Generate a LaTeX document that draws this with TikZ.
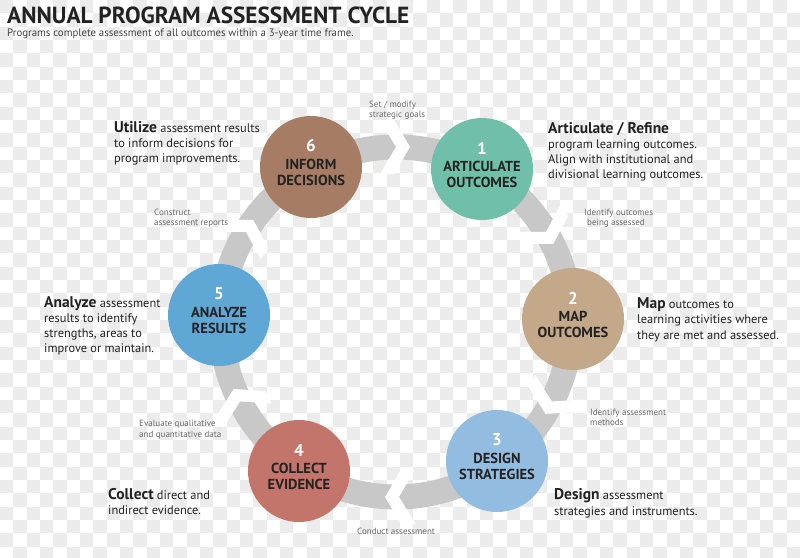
\documentclass[tikz,border=0pt]{standalone}
\usepackage{fontspec}
\setmainfont{PT Sans}
\definecolor{chk}{HTML}{ECECEC}
\definecolor{ringgray}{HTML}{C8C8C8}
\definecolor{cA}{HTML}{6FBFAA}
\definecolor{cB}{HTML}{C4A88A}
\definecolor{cC}{HTML}{92BDE0}
\definecolor{cD}{HTML}{C4756B}
\definecolor{cE}{HTML}{5FA7D4}
\definecolor{cF}{HTML}{A67C65}
\definecolor{txt}{HTML}{222222}
\definecolor{small}{HTML}{6B6B6B}
\tikzset{
  stage/.style={circle, inner sep=0pt, minimum size=102pt},
  num/.style={text=white, font=\fontsize{17}{17}\selectfont\bfseries},
  lab/.style={text=txt, align=center, font=\fontsize{14.5}{16}\selectfont\bfseries},
  desc/.style={text=txt, align=left, anchor=base west, inner sep=0pt, font=\fontsize{12.4}{15}\selectfont},
  note/.style={text=small, align=left, anchor=base west, inner sep=0pt, font=\fontsize{9}{10}\selectfont},
  chev/.style={fill=white}
}
\newcommand{\lead}[1]{{\fontsize{15.5}{15}\selectfont\bfseries #1}}
\begin{document}
\begin{tikzpicture}[x=1pt,y=-1pt]
\useasboundingbox (0,0) rectangle (800,557);
\fill[white] (0,0) rectangle (800,557);
\foreach \j in {0,...,41}{\foreach \i in {0,...,29}{
  \fill[chk] ({(2*\i+mod(\j,2))*13.333},{\j*13.333}) rectangle ++(13.333,13.333);}}
% title
\node[anchor=base west, inner sep=0pt, text=txt, font=\fontsize{23.3}{23}\selectfont\bfseries] (title) at (7,23) {ANNUAL PROGRAM ASSESSMENT CYCLE};
\node[anchor=base west, inner sep=0pt, text=txt!85, font=\fontsize{10.8}{10}\selectfont] (sub) at (7,36.5) {Programs complete assessment of all outcomes within a 3-year time frame.};
% ring
\coordinate (ctr) at (396,322);
\draw[ringgray, line width=25pt] (ctr) circle (175);
% chevrons
\foreach \a/\r in {-90/0, -31/-59, 27/-117, 89/-179, 153/-243, -149/59}{
  \fill[chev, shift={(ctr)}, shift={(\a:175)}, rotate=\r]
    (-16,-27) -- (-2,-27) -- (14,0) -- (-2,27) -- (-16,27) -- (0,0) -- cycle;
}
% stages
\node[stage, fill=cA] (s1) at (482,169) {};
\node[stage, fill=cB] (s2) at (573,319) {};
\node[stage, fill=cC] (s3) at (497,461) {};
\node[stage, fill=cD] (s4) at (299,471) {};
\node[stage, fill=cE] (s5) at (219,315) {};
\node[stage, fill=cF] (s6) at (311,167) {};
\foreach \s/\n/\l in {s1/1/ARTICULATE\\OUTCOMES, s2/2/MAP\\OUTCOMES, s3/3/DESIGN\\STRATEGIES, s4/4/COLLECT\\EVIDENCE, s5/5/ANALYZE\\RESULTS, s6/6/INFORM\\DECISIONS}{
  \node[num] (\s n) at ([yshift=21pt]\s.center) {\n};
  \node[lab] (\s l) at ([yshift=-5pt]\s.center) {\l};
}
% descriptions (base anchor = baseline of last line)
\node[desc] (d6) at (114,162) {\lead{Utilize} assessment results\\to inform decisions for\\program improvements.};
\node[desc] (d1) at (548,178.5) {\lead{Articulate / Refine}\\[0.5pt]program learning outcomes.\\Align with institutional and\\divisional learning outcomes.};
\node[desc, font=\fontsize{12.4}{15.5}\selectfont] (d2) at (637,339) {\lead{Map} outcomes to\\learning activities where\\they are met and assessed.};
\node[desc] (d5) at (44,352) {\lead{Analyze} assessment\\results to identify\\strengths, areas to\\improve or maintain.};
\node[desc] (d4) at (108,514.5) {\lead{Collect} direct and\\indirect evidence.};
\node[desc, font=\fontsize{12.4}{15.5}\selectfont] (d3) at (554,515) {\lead{Design} assessment\\strategies and instruments.};
% notes
\node[note] (n61) at (369,117.5) {Set / modify\\strategic goals};
\node[note] (n12) at (584,225.5) {Identify outcomes\\\hspace*{3pt}being assessed};
\node[note] (n56) at (154,225.5) {Construct\\assessment reports};
\node[note] (n23) at (590,425) {Identify assessment\\methods};
\node[note] (n45) at (139,437.5) {Evaluate qualitative\\[1.5pt]and quantitative data};
\node[note] (n34) at (357,534) {Conduct assessment};
\end{tikzpicture}
\end{document}
